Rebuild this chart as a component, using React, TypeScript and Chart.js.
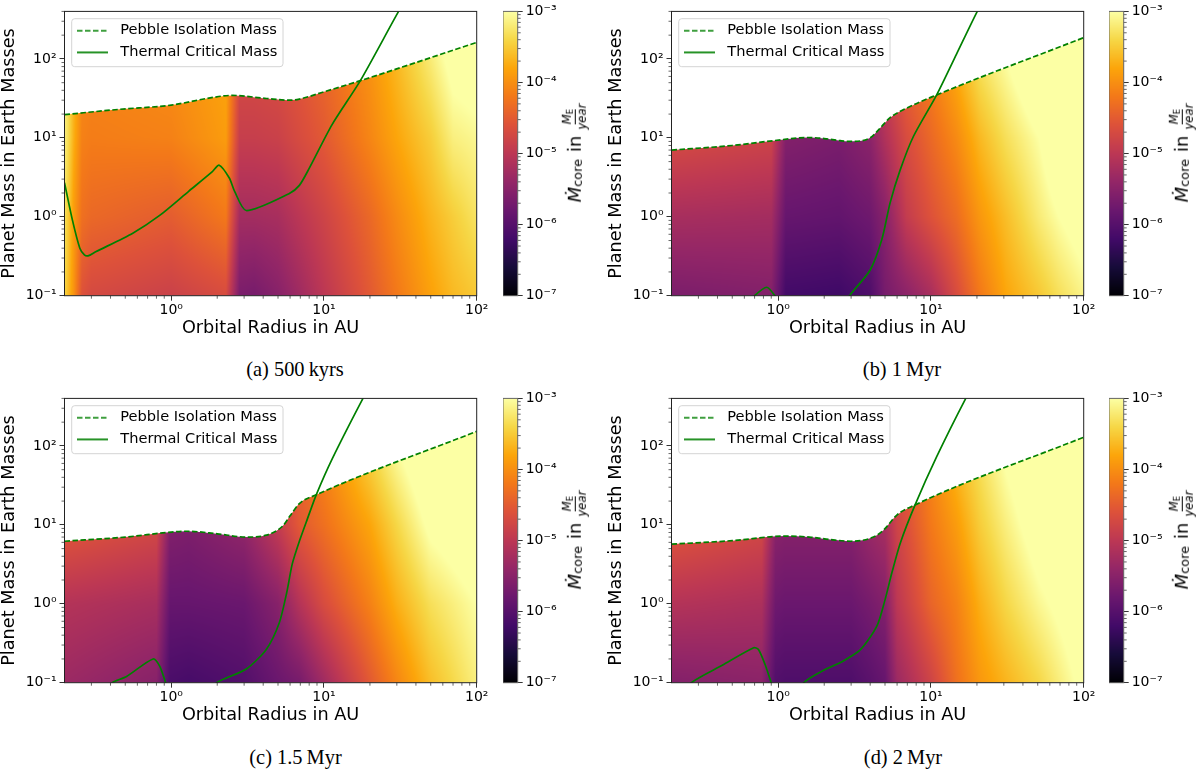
import React, { useEffect, useRef } from "react";
import { Chart, registerables } from "chart.js";

Chart.register(...registerables);

// ---------- shared axes ----------
const xTickValues = [1, 10, 100];
const xTickLabels = ["10⁰", "10¹", "10²"];
const xMinorTicks = [0.3, 0.4, 0.5, 0.6, 0.7, 0.8, 0.9, 2, 3, 4, 5, 6, 7, 8, 9, 20, 30, 40, 50, 60, 70, 80, 90];
const yTickValues = [0.1, 1, 10, 100];
const yTickLabels = ["10⁻¹", "10⁰", "10¹", "10²"];
const yMinorTicks = [0.2, 0.3, 0.4, 0.5, 0.6, 0.7, 0.8, 0.9, 2, 3, 4, 5, 6, 7, 8, 9, 20, 30, 40, 50, 60, 70, 80, 90, 200, 300, 400];
const cbTickValues = [1e-7, 1e-6, 1e-5, 1e-4, 1e-3];
const cbTickLabels = ["10⁻⁷", "10⁻⁶", "10⁻⁵", "10⁻⁴", "10⁻³"];
const cbMinorTicks = [2e-7, 3e-7, 4e-7, 5e-7, 6e-7, 7e-7, 8e-7, 9e-7, 2e-6, 3e-6, 4e-6, 5e-6, 6e-6, 7e-6, 8e-6, 9e-6, 2e-5, 3e-5, 4e-5, 5e-5, 6e-5, 7e-5, 8e-5, 9e-5, 2e-4, 3e-4, 4e-4, 5e-4, 6e-4, 7e-4, 8e-4, 9e-4];
const legendNames = ["Pebble Isolation Mass", "Thermal Critical Mass"];
const xTitle = "Orbital Radius in AU";
const yTitle = "Planet Mass in Earth Masses";

// planet masses of the four rows of every flux table
const fluxMasses = [0.1, 1, 10, 100];

// ---------- panel (a) 500 kyrs ----------
const aPebbleR = [0.2, 0.46, 1, 1.87, 2.5, 4.2, 6, 6.9, 10, 17.3, 40, 100];
const aPebbleM = [19.7, 23, 26, 32.5, 34.5, 31.5, 30, 31, 38.3, 53, 90, 162];
const aThermalR = [0.2, 0.225, 0.252, 0.27, 0.285, 0.32, 0.56, 0.84, 1.3, 1.85, 2.06, 2.4, 2.6, 3.1, 5.9, 6.9, 8, 11.3, 17.3, 30.8, 36];
const aThermalM = [2.7, 0.92, 0.4, 0.33, 0.32, 0.36, 0.62, 1.04, 2.1, 3.7, 4.5, 3.1, 2.1, 1.2, 1.96, 2.5, 4.1, 14.7, 53, 400, 650];
const aFluxR = [0.2, 0.21, 0.23, 0.26, 0.3, 1, 2.28, 2.8, 3.5, 5, 7, 10, 20, 30, 50, 70, 100];
const aFlux01 = [-3.4, -3.6, -3.96, -4.6, -4.72, -4.84, -4.68, -5.64, -5.68, -5.52, -5.28, -5, -4.52, -4.2, -3.84, -3.64, -3.52];
const aFlux1 = [-3.28, -3.48, -3.88, -4.28, -4.36, -4.48, -4.2, -5.24, -5.24, -5.2, -5, -4.8, -4.36, -4.04, -3.68, -3.48, -3.28];
const aFlux10 = [-3.16, -3.32, -3.72, -4.12, -4.16, -4.12, -3.88, -4.88, -4.88, -4.84, -4.68, -4.52, -4.08, -3.8, -3.48, -3.16, -3.08];
const aFlux100 = [-3.12, -3.28, -3.64, -4.04, -4.08, -4, -3.8, -4.68, -4.68, -4.64, -4.52, -4.36, -3.96, -3.64, -3.2, -2.88, -2.8];

// ---------- panel (b) 1 Myr ----------
const bPebbleR = [0.2, 0.5, 0.93, 1.55, 2, 2.55, 2.96, 4, 4.6, 5.4, 6.9, 10.9, 100];
const bPebbleM = [7, 8, 9.2, 10.1, 9.8, 9.2, 9, 10, 13, 18, 23.7, 35, 186];
const bThermalR = [0.6, 0.7, 0.84, 0.95, 1.05, 2.6, 2.96, 3.99, 4.76, 5.4, 6.28, 7.67, 10.9, 14.7, 20.1, 23];
const bThermalM = [0.07, 0.1, 0.128, 0.1, 0.07, 0.07, 0.103, 0.21, 0.51, 1.5, 3.9, 10.4, 35, 115, 400, 630];
const bFluxR = [0.2, 0.9, 1.12, 2.5, 4, 5, 6.9, 10, 14.7, 21, 31, 51, 69, 100];
const bFlux01 = [-5.64, -5.56, -6.2, -6.24, -6.08, -5.68, -5.48, -5.2, -4.68, -4.2, -3.8, -3.52, -3.32, -3.12];
const bFlux1 = [-5.2, -5.24, -5.84, -5.88, -5.76, -5.52, -4.92, -4.6, -4.32, -3.92, -3.6, -3.2, -3, -2.8];
const bFlux10 = [-4.68, -4.8, -5.56, -5.64, -5.48, -5.12, -4.68, -4.36, -4.04, -3.64, -3.32, -3, -2.68, -2.6];
const bFlux100 = [-4.44, -4.6, -5.4, -5.48, -5, -4.8, -4.36, -4.12, -3.72, -3.28, -3, -2.6, -2.6, -2.6];

// ---------- panel (c) 1.5 Myr ----------
const cPebbleR = [0.2, 0.5, 1, 1.26, 2, 3.1, 4.2, 5.35, 6, 6.9, 8.9, 100];
const cPebbleM = [6.2, 7, 8.1, 8.3, 7.7, 7, 7.4, 9.6, 13, 18.6, 24, 153];
const cThermalR = [0.3, 0.41, 0.51, 0.76, 0.84, 0.92, 1, 1.7, 1.98, 3.1, 4.2, 5.1, 5.7, 6.2, 6.9, 7.8, 8.9, 11.3, 18, 22];
const cThermalM = [0.06, 0.1, 0.12, 0.2, 0.162, 0.1, 0.07, 0.07, 0.1, 0.149, 0.266, 0.575, 1.38, 3.2, 6.2, 12, 24, 68, 400, 800];
const cFluxR = [0.2, 0.8, 0.98, 1.3, 3, 5, 6.9, 10, 20, 30, 50, 100];
const cFlux01 = [-5.32, -5.52, -6.12, -6.16, -6.04, -5.8, -5.68, -5.28, -4.52, -4.08, -3.6, -3.16];
const cFlux1 = [-5.08, -5.2, -5.84, -5.84, -5.8, -5.52, -5.08, -4.68, -4.12, -3.72, -3.32, -3];
const cFlux10 = [-4.52, -4.72, -5.56, -5.6, -5.4, -4.92, -4.52, -4.28, -3.8, -3.4, -2.92, -2.68];
const cFlux100 = [-4.36, -4.6, -5.4, -5.44, -5.24, -4.68, -4.36, -4.04, -3.4, -3, -2.6, -2.6];

// ---------- panel (d) 2 Myr ----------
const dPebbleR = [0.2, 0.5, 1.1, 1.6, 2.2, 3, 4.2, 4.9, 6, 7.87, 100];
const dPebbleM = [5.7, 6.3, 7.2, 7, 6.5, 6.2, 7, 8.6, 13.4, 17.9, 129];
const dThermalR = [0.2, 0.27, 0.43, 0.69, 0.74, 0.82, 0.9, 1, 1.3, 1.47, 2, 2.55, 3.44, 4.42, 5, 5.54, 6.3, 7.87, 10.9, 16.9, 20];
const dThermalM = [0.05, 0.1, 0.166, 0.277, 0.265, 0.17, 0.1, 0.06, 0.06, 0.1, 0.145, 0.18, 0.26, 0.52, 1.12, 2.45, 5.9, 17.9, 73, 400, 700];
const dFluxR = [0.2, 0.78, 0.96, 1.1, 3, 4, 5, 6, 10, 14.7, 21, 31, 51, 88, 100];
const dFlux01 = [-5.56, -5.48, -6.04, -6.08, -6.08, -5.96, -5.84, -5.32, -4.8, -4.28, -3.92, -3.68, -3.4, -3, -2.92];
const dFlux1 = [-5.08, -5.16, -5.76, -5.8, -5.8, -5.68, -5.56, -5, -4.4, -4.12, -3.72, -3.4, -3.08, -2.8, -2.8];
const dFlux10 = [-4.52, -4.72, -5.48, -5.52, -5.52, -5.32, -5.2, -4.8, -4.2, -3.88, -3.48, -3.16, -2.8, -2.6, -2.6];
const dFlux100 = [-4.36, -4.6, -5.32, -5.4, -5.4, -5.16, -5, -4.6, -4.04, -3.6, -3.28, -2.92, -2.6, -2.6, -2.6];

// inferno colour map, equally spaced stops
const infernoStops = [
  [0, 0, 4], [22, 11, 57], [66, 10, 104], [106, 23, 110], [147, 38, 103], [188, 55, 84],
  [221, 81, 58], [243, 120, 25], [252, 165, 10], [246, 215, 70], [252, 255, 164],
];

const pairs = (xs: number[], ys: number[]) => xs.map((x, i) => ({ x, y: ys[i] }));

const panelList = [
  { key: "a", caption: "(a) 500\u2009kyrs", plotLeft: 64.5, plotTop: 10, capX: 295, capY: 369, pebbleR: aPebbleR, pebbleM: aPebbleM, thermalR: aThermalR, thermalM: aThermalM, fluxR: aFluxR, flux: [aFlux01, aFlux1, aFlux10, aFlux100] },
  { key: "b", caption: "(b) 1\u2009Myr", plotLeft: 671, plotTop: 10, capX: 902, capY: 369, pebbleR: bPebbleR, pebbleM: bPebbleM, thermalR: bThermalR, thermalM: bThermalM, fluxR: bFluxR, flux: [bFlux01, bFlux1, bFlux10, bFlux100] },
  { key: "c", caption: "(c) 1.5\u2009Myr", plotLeft: 64.5, plotTop: 397.3, capX: 295.5, capY: 757, pebbleR: cPebbleR, pebbleM: cPebbleM, thermalR: cThermalR, thermalM: cThermalM, fluxR: cFluxR, flux: [cFlux01, cFlux1, cFlux10, cFlux100] },
  { key: "d", caption: "(d) 2\u2009Myr", plotLeft: 671, plotTop: 397.3, capX: 903, capY: 757, pebbleR: dPebbleR, pebbleM: dPebbleM, thermalR: dThermalR, thermalM: dThermalM, fluxR: dFluxR, flux: [dFlux01, dFlux1, dFlux10, dFlux100] },
];

// ---------- layout constants ----------
const PLOT_W = 412.2;
const PLOT_H = 284.3;
const Y_AXIS_W = 64.5;
const X_AXIS_H = 42.3;
const CANVAS_W = 500;
const CB_GAP = 37.8;
const CB_W = 14.7;
const CB_CANVAS_W = 60;
const FONT = "'DejaVu Sans'";
const GREEN = "#008000";
const TICK_SIZE = 14;
const LINE_W = 1.7;

function infernoAt(logFlux: number): number[] {
  const t = Math.min(1, Math.max(0, (logFlux + 7) / 4)) * (infernoStops.length - 1);
  const i = Math.min(infernoStops.length - 2, Math.floor(t));
  const f = t - i;
  const a = infernoStops[i];
  const b = infernoStops[i + 1];
  return [a[0] + (b[0] - a[0]) * f, a[1] + (b[1] - a[1]) * f, a[2] + (b[2] - a[2]) * f];
}

function bracket(list: number[], v: number): [number, number] {
  let i = 0;
  while (i < list.length - 2 && v >= list[i + 1]) i++;
  const f = (Math.log10(v) - Math.log10(list[i])) / (Math.log10(list[i + 1]) - Math.log10(list[i]));
  return [i, Math.min(1, Math.max(0, f))];
}

function drawMinorTicks(ctx: any, scale: any, values: number[], side: string, len: number) {
  const ca = scale.chart.chartArea;
  ctx.save();
  ctx.strokeStyle = "#000";
  ctx.lineWidth = 0.6;
  ctx.beginPath();
  values.forEach((v) => {
    const p = scale.getPixelForValue(v);
    if (side === "bottom") { ctx.moveTo(p, ca.bottom); ctx.lineTo(p, ca.bottom + len); }
    if (side === "left") { ctx.moveTo(ca.left, p); ctx.lineTo(ca.left - len, p); }
    if (side === "right") { ctx.moveTo(ca.right, p); ctx.lineTo(ca.right + len, p); }
  });
  ctx.stroke();
  ctx.restore();
}

function makeHandle(dash: number[]) {
  const c = document.createElement("canvas");
  c.width = 36;
  c.height = 4;
  const g = c.getContext("2d")!;
  g.strokeStyle = GREEN;
  g.lineWidth = LINE_W;
  g.setLineDash(dash);
  g.beginPath();
  g.moveTo(0, 2);
  g.lineTo(31, 2);
  g.stroke();
  return c;
}

const tickGrid = { display: true, drawOnChartArea: false, drawTicks: true, tickLength: 5, tickColor: "#000", tickWidth: 0.8 };

function buildPanel(canvas: HTMLCanvasElement, p: any) {
  const heatPlugin = {
    id: "heat",
    afterLayout(chart: any) {
      const ca = chart.chartArea;
      const lg = chart.legend;
      lg.left = ca.left + 5.4;
      lg.top = ca.top + 4.9;
      lg.right = lg.left + 300;
      lg.bottom = lg.top + 80;
    },
    beforeDatasetsDraw(chart: any) {
      const { ctx, chartArea: ca, scales } = chart;
      const left = Math.floor(ca.left);
      const top = Math.floor(ca.top);
      const w = Math.ceil(ca.right) - left;
      const h = Math.ceil(ca.bottom) - top;
      const off = document.createElement("canvas");
      off.width = w;
      off.height = h;
      const g = off.getContext("2d")!;
      const img = g.createImageData(w, h);
      const rowInfo: [number, number][] = [];
      for (let y = 0; y < h; y++) rowInfo.push(bracket(fluxMasses, scales.y.getValueForPixel(top + y + 0.5)));
      for (let x = 0; x < w; x++) {
        const [ci, cf] = bracket(p.fluxR, scales.x.getValueForPixel(left + x + 0.5));
        for (let y = 0; y < h; y++) {
          const [ri, rf] = rowInfo[y];
          const lo = p.flux[ri][ci] * (1 - cf) + p.flux[ri][ci + 1] * cf;
          const hi = p.flux[ri + 1][ci] * (1 - cf) + p.flux[ri + 1][ci + 1] * cf;
          const c = infernoAt(lo * (1 - rf) + hi * rf);
          const o = (y * w + x) * 4;
          img.data[o] = c[0];
          img.data[o + 1] = c[1];
          img.data[o + 2] = c[2];
          img.data[o + 3] = 255;
        }
      }
      g.putImageData(img, 0, 0);
      ctx.save();
      ctx.beginPath();
      ctx.rect(ca.left, ca.top, ca.right - ca.left, ca.bottom - ca.top);
      ctx.clip();
      ctx.beginPath();
      chart.getDatasetMeta(0).dataset.path(ctx);
      ctx.lineTo(ca.right, ca.bottom);
      ctx.lineTo(ca.left, ca.bottom);
      ctx.closePath();
      ctx.clip();
      ctx.drawImage(off, left, top);
      ctx.restore();
    },
    afterDatasetsDraw(chart: any) {
      const { ctx, chartArea: ca, scales } = chart;
      drawMinorTicks(ctx, scales.x, xMinorTicks, "bottom", 3);
      drawMinorTicks(ctx, scales.y, yMinorTicks, "left", 3);
      ctx.save();
      ctx.strokeStyle = "#222";
      ctx.lineWidth = 1;
      ctx.strokeRect(ca.left, ca.top, ca.right - ca.left, ca.bottom - ca.top);
      ctx.beginPath();
      ctx.roundRect(ca.left + 7.2, ca.top + 7.3, 211.3, 48, 3);
      ctx.fillStyle = "#fff";
      ctx.fill();
      ctx.strokeStyle = "#d4d4d4";
      ctx.lineWidth = 1;
      ctx.stroke();
      ctx.restore();
      chart.legend.draw();
    },
  };

  const handles = [makeHandle([5.5, 2.5]), makeHandle([])];

  return new Chart(canvas, {
    type: "scatter",
    data: {
      datasets: [
        { label: legendNames[0], data: pairs(p.pebbleR, p.pebbleM), showLine: true, borderColor: GREEN, backgroundColor: GREEN, borderWidth: LINE_W, borderDash: [5.5, 2.5], pointRadius: 0, cubicInterpolationMode: "monotone", capBezierPoints: false },
        { label: legendNames[1], data: pairs(p.thermalR, p.thermalM), showLine: true, borderColor: GREEN, backgroundColor: GREEN, borderWidth: LINE_W, pointRadius: 0, tension: 0.25, capBezierPoints: false },
      ],
    } as any,
    options: {
      responsive: false,
      animation: false,
      events: [],
      layout: { padding: { top: 10 + (p.plotTop - Math.floor(p.plotTop)), right: CANVAS_W - Y_AXIS_W - PLOT_W, left: 0, bottom: 0 } },
      plugins: {
        tooltip: { enabled: false },
        legend: {
          display: true,
          position: "chartArea",
          align: "start",
          labels: {
            font: { family: FONT, size: 14.6 },
            color: "#000",
            usePointStyle: true,
            pointStyleWidth: 36,
            padding: 7.1,
            generateLabels: () =>
              legendNames.map((text, i) => ({ text, fontColor: "#000", strokeStyle: GREEN, fillStyle: GREEN, lineWidth: LINE_W, pointStyle: handles[i], datasetIndex: i, hidden: false })),
          },
        },
      },
      scales: {
        x: {
          type: "logarithmic",
          min: 0.2,
          max: 100,
          position: "bottom",
          grid: tickGrid,
          border: { display: false },
          title: { display: true, text: xTitle, color: "#000", font: { family: FONT, size: 17.7, lineHeight: 1.08 }, padding: 0 },
          ticks: { color: "#000", font: { family: FONT, size: TICK_SIZE }, padding: 1.5, autoSkip: false, maxRotation: 0, callback: (v: any) => xTickLabels[xTickValues.indexOf(v)] ?? "" },
          afterBuildTicks: (s: any) => { s.ticks = xTickValues.map((value) => ({ value, major: true })); },
          afterFit: (s: any) => { s.height = X_AXIS_H; },
        },
        y: {
          type: "logarithmic",
          min: 0.1,
          max: 400,
          position: "left",
          grid: tickGrid,
          border: { display: false },
          title: { display: true, text: yTitle, color: "#000", font: { family: FONT, size: 17.7, lineHeight: 1.08 }, padding: 0 },
          ticks: { color: "#000", font: { family: FONT, size: TICK_SIZE }, padding: 3, autoSkip: false, callback: (v: any) => yTickLabels[yTickValues.indexOf(v)] ?? "" },
          afterBuildTicks: (s: any) => { s.ticks = yTickValues.map((value) => ({ value, major: true })); },
          afterFit: (s: any) => { s.width = Y_AXIS_W; },
        },
      },
    } as any,
    plugins: [heatPlugin],
  });
}

function buildColorbar(canvas: HTMLCanvasElement, plotTop: number) {
  const barPlugin = {
    id: "bar",
    beforeDatasetsDraw(chart: any) {
      const { ctx, chartArea: ca, scales } = chart;
      ctx.save();
      for (let y = Math.floor(ca.top); y < ca.bottom; y++) {
        const c = infernoAt(Math.log10(scales.y.getValueForPixel(y + 0.5)));
        ctx.fillStyle = `rgb(${c[0]},${c[1]},${c[2]})`;
        ctx.fillRect(ca.left, y, ca.right - ca.left, 1);
      }
      ctx.restore();
    },
    afterDatasetsDraw(chart: any) {
      const { ctx, chartArea: ca, scales } = chart;
      drawMinorTicks(ctx, scales.y, cbMinorTicks, "right", 3);
      ctx.save();
      ctx.strokeStyle = "#666";
      ctx.lineWidth = 1;
      ctx.strokeRect(ca.left, ca.top, ca.right - ca.left, ca.bottom - ca.top);
      ctx.restore();
    },
  };
  return new Chart(canvas, {
    type: "scatter",
    data: { datasets: [{ data: [] }] },
    options: {
      responsive: false,
      animation: false,
      events: [],
      layout: { padding: { top: 10 + (plotTop - Math.floor(plotTop)), bottom: X_AXIS_H, left: 0, right: 0 } },
      plugins: { legend: { display: false }, tooltip: { enabled: false } },
      scales: {
        x: { display: false, type: "linear", min: 0, max: 1 },
        y: {
          type: "logarithmic",
          min: 1e-7,
          max: 1e-3,
          position: "right",
          grid: tickGrid,
          border: { display: false },
          ticks: { color: "#000", font: { family: FONT, size: TICK_SIZE }, padding: 3, autoSkip: false, callback: (v: any) => cbTickLabels[cbTickValues.indexOf(v)] ?? "" },
          afterBuildTicks: (s: any) => { s.ticks = cbTickValues.map((value) => ({ value, major: true })); },
          afterFit: (s: any) => { s.width = CB_CANVAS_W - CB_W; },
        },
      },
    } as any,
    plugins: [barPlugin],
  });
}

function FluxLabel({ cx, cy }: { cx: number; cy: number }) {
  return (
    <div
      style={{
        position: "absolute", left: cx, top: cy, transform: "translate(-50%,-50%) rotate(-90deg)",
        fontFamily: FONT, fontSize: 18, color: "#000", whiteSpace: "nowrap", display: "inline-flex", alignItems: "center", lineHeight: 1,
      }}
    >
      <span style={{ fontStyle: "italic" }}>Ṁ</span>
      <span style={{ fontSize: 12.8, position: "relative", top: 3 }}>core</span>
      <span style={{ marginLeft: 7, marginRight: 6 }}>in</span>
      <span style={{ display: "inline-flex", flexDirection: "column", alignItems: "center", fontSize: 11.7, fontStyle: "italic" }}>
        <span style={{ borderBottom: "1px solid #000", paddingBottom: 1 }}>
          M<span style={{ fontSize: 8.5, fontStyle: "normal", position: "relative", top: 2 }}>E</span>
        </span>
        <span style={{ paddingTop: 1 }}>year</span>
      </span>
    </div>
  );
}

function Panel({ p }: { p: any }) {
  const mainRef = useRef<HTMLCanvasElement>(null);
  const barRef = useRef<HTMLCanvasElement>(null);
  useEffect(() => {
    const a = buildPanel(mainRef.current!, p);
    const b = buildColorbar(barRef.current!, p.plotTop);
    return () => {
      a.destroy();
      b.destroy();
    };
  }, [p]);
  const canvasLeft = Math.round(p.plotLeft - Y_AXIS_W);
  const canvasTop = Math.floor(p.plotTop) - 10;
  const height = 10 + Math.ceil(PLOT_H + X_AXIS_H + 1);
  const cbLeft = p.plotLeft + PLOT_W + CB_GAP - 12;
  return (
    <>
      <canvas ref={mainRef} width={CANVAS_W} height={height} style={{ position: "absolute", left: canvasLeft, top: canvasTop, width: CANVAS_W, height }} />
      <canvas ref={barRef} width={CB_CANVAS_W} height={height} style={{ position: "absolute", left: Math.round(cbLeft), top: canvasTop, width: CB_CANVAS_W, height }} />
      <FluxLabel cx={p.plotLeft + 510.5} cy={p.plotTop + 143} />
      <div style={{ position: "absolute", left: p.capX, top: p.capY, transform: "translate(-50%,-50%)", fontFamily: "'Liberation Serif'", fontSize: 20.4, color: "#000", whiteSpace: "nowrap" }}>
        {p.caption}
      </div>
    </>
  );
}

export default function App() {
  return (
    <div style={{ position: "absolute", left: 0, top: 0, width: 1200, height: 769, background: "#fff", overflow: "hidden" }}>
      {panelList.map((p) => (
        <Panel key={p.key} p={p} />
      ))}
    </div>
  );
}
